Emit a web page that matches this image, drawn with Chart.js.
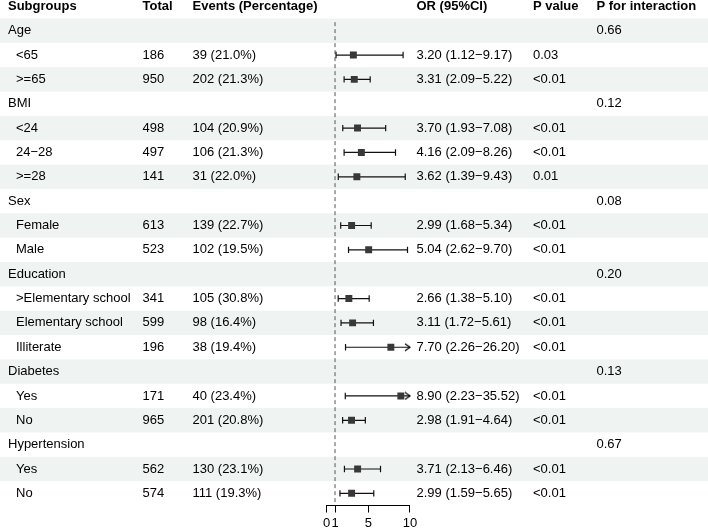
<!doctype html>
<html lang="en">
  <head>
    <meta charset="UTF-8" />
    <title>Subgroup forest plot</title>
    <script src="https://cdn.jsdelivr.net/npm/chart.js"></script>
    <style>
      body {
        margin: 0;
        background: #fff;
      }
      .chart-container {
        position: relative;
        width: 708px;
        height: 528px;
      }
    </style>
  </head>
  <body>
    <div class="chart-container">
      <canvas id="forestChart"></canvas>
    </div>

    <script>
      const subgroups = ['Age', '<65', '>=65', 'BMI', '<24', '24−28', '>=28', 'Sex', 'Female', 'Male',
        'Education', '>Elementary school', 'Elementary school', 'Illiterate', 'Diabetes', 'Yes', 'No',
        'Hypertension', 'Yes', 'No']
      const isGroup = [1, 0, 0, 1, 0, 0, 0, 1, 0, 0, 1, 0, 0, 0, 1, 0, 0, 1, 0, 0]
      const totals = [null, 186, 950, null, 498, 497, 141, null, 613, 523, null, 341, 599, 196, null, 171, 965, null, 562, 574]
      const events = [null, 39, 202, null, 104, 106, 31, null, 139, 102, null, 105, 98, 38, null, 40, 201, null, 130, 111]
      const eventPct = [null, 21.0, 21.3, null, 20.9, 21.3, 22.0, null, 22.7, 19.5, null, 30.8, 16.4, 19.4, null, 23.4, 20.8, null, 23.1, 19.3]
      const orValues = [null, 3.20, 3.31, null, 3.70, 4.16, 3.62, null, 2.99, 5.04, null, 2.66, 3.11, 7.70, null, 8.90, 2.98, null, 3.71, 2.99]
      const ciLower = [null, 1.12, 2.09, null, 1.93, 2.09, 1.39, null, 1.68, 2.62, null, 1.38, 1.72, 2.26, null, 2.23, 1.91, null, 2.13, 1.59]
      const ciUpper = [null, 9.17, 5.22, null, 7.08, 8.26, 9.43, null, 5.34, 9.70, null, 5.10, 5.61, 26.20, null, 35.52, 4.64, null, 6.46, 5.65]
      const pValues = ['', '0.03', '<0.01', '', '<0.01', '<0.01', '0.01', '', '<0.01', '<0.01', '', '<0.01', '<0.01', '<0.01', '', '<0.01', '<0.01', '', '<0.01', '<0.01']
      const pInteraction = ['0.66', '', '', '0.12', '', '', '', '0.08', '', '', '0.20', '', '', '', '0.13', '', '', '0.67', '', '']
      const xTicks = [0, 1, 5, 10]
      const xMax = 10

      const FONT = '"Liberation Sans", Arial, sans-serif'

      // open arrow head for intervals running past the axis
      const arrowImg = document.createElement('canvas')
      arrowImg.width = 12
      arrowImg.height = 9
      const actx = arrowImg.getContext('2d')
      actx.strokeStyle = '#000'
      actx.lineWidth = 1.2
      actx.beginPath()
      actx.moveTo(1, 1)
      actx.lineTo(6, 4.5)
      actx.lineTo(1, 8)
      actx.stroke()

      const ciSets = []
      orValues.forEach((v, i) => {
        if (v == null) return
        const clipped = ciUpper[i] > xMax
        const isArrow = (c) => c.dataIndex === 1 && clipped
        ciSets.push({
          type: 'line',
          data: [
            { x: ciLower[i], y: i },
            { x: Math.min(ciUpper[i], xMax), y: i }
          ],
          borderColor: '#111',
          borderWidth: 1.2,
          pointStyle: (c) => (isArrow(c) ? arrowImg : 'line'),
          rotation: (c) => (isArrow(c) ? 0 : 90),
          pointRadius: 3.2,
          pointBorderColor: '#111',
          pointBorderWidth: 1.2,
          clip: 8
        })
      })

      // stripe + table text plugin
      const tablePlugin = {
        id: 'table',
        beforeDraw: (chart) => {
          const ctx = chart.ctx
          const y = chart.scales.y
          ctx.save()
          ctx.fillStyle = '#eff3f2'
          subgroups.forEach((_, i) => {
            if (i % 2 !== 0) return
            const top = y.getPixelForValue(i - 0.5)
            const bot = y.getPixelForValue(i + 0.5)
            ctx.fillRect(0, top, chart.width, bot - top)
          })
          ctx.restore()
        },
        afterDraw: (chart) => {
          const ctx = chart.ctx
          const y = chart.scales.y
          ctx.save()
          ctx.fillStyle = '#000'
          ctx.textBaseline = 'middle'
          ctx.textAlign = 'left'
          const hy = y.getPixelForValue(-1)
          ctx.font = 'bold 13px ' + FONT
          ctx.fillText('Subgroups', 8, hy)
          ctx.fillText('Total', 142.5, hy)
          ctx.fillText('Events (Percentage)', 192.5, hy)
          ctx.fillText('OR (95%CI)', 416.5, hy)
          ctx.fillText('P value', 533, hy)
          ctx.fillText('P for interaction', 596.5, hy)
          ctx.font = '13px ' + FONT
          subgroups.forEach((name, i) => {
            const py = y.getPixelForValue(i)
            ctx.fillText(name, isGroup[i] ? 8 : 16, py)
            if (totals[i] != null) ctx.fillText(String(totals[i]), 142.5, py)
            if (events[i] != null) ctx.fillText(`${events[i]} (${eventPct[i].toFixed(1)}%)`, 192.5, py)
            if (orValues[i] != null) {
              ctx.fillText(
                `${orValues[i].toFixed(2)} (${ciLower[i].toFixed(2)}−${ciUpper[i].toFixed(2)})`,
                416.5,
                py
              )
            }
            ctx.fillText(pValues[i], 533, py)
            ctx.fillText(pInteraction[i], 596.5, py)
          })
          ctx.restore()
        }
      }

      const ctx = document.getElementById('forestChart').getContext('2d')
      const forestChart = new Chart(ctx, {
        type: 'scatter',
        data: {
          datasets: [
            {
              // point estimates
              data: orValues.map((v, i) => (v == null ? null : { x: v, y: i })).filter(Boolean),
              pointStyle: 'rect',
              pointRadius: 4.9,
              backgroundColor: '#383838',
              borderColor: '#383838',
              borderWidth: 0
            },
            ...ciSets,
            {
              // reference line at OR = 1
              type: 'line',
              data: [
                { x: 1, y: -0.35 },
                { x: 1, y: subgroups.length - 0.5 }
              ],
              borderColor: '#555',
              borderWidth: 1,
              borderDash: [4, 3],
              pointRadius: 0
            }
          ]
        },
        options: {
          responsive: true,
          maintainAspectRatio: false,
          animation: false,
          layout: {
            padding: { left: 326.7, right: 298, top: 18.5, bottom: 0 }
          },
          plugins: {
            legend: { display: false },
            tooltip: { enabled: false }
          },
          scales: {
            x: {
              type: 'linear',
              min: 0,
              max: xMax,
              afterBuildTicks: (s) => {
                s.ticks = xTicks.map((v) => ({ value: v }))
              },
              afterFit: (s) => {
                s.height = 22.5
              },
              border: { display: true, color: '#000', width: 1 },
              grid: { drawOnChartArea: false, drawTicks: true, tickLength: 7, color: '#000' },
              ticks: {
                autoSkip: false,
                maxRotation: 0,
                padding: 3,
                color: '#000',
                font: { family: FONT, size: 13 }
              }
            },
            y: {
              type: 'linear',
              display: false,
              reverse: true,
              min: -0.5,
              max: subgroups.length - 0.5
            }
          }
        },
        plugins: [tablePlugin]
      })
    </script>
  </body>
</html>
